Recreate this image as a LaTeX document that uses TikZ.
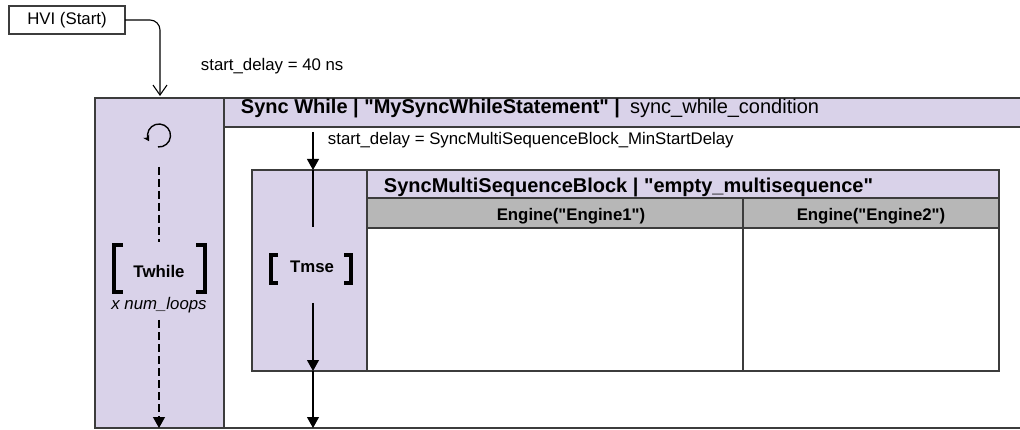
\documentclass[tikz,border=0pt]{standalone}
\usepackage{fontspec}
\setmainfont{Liberation Sans}[Ligatures=TeXOff]
\usetikzlibrary{arrows.meta}
\definecolor{lilac}{RGB}{217,210,233}
\definecolor{enggray}{RGB}{183,183,183}
\definecolor{rim}{RGB}{60,60,60}
\begin{document}
\begin{tikzpicture}[x=1pt,y=1pt,yscale=-1,xscale=1,
	panel/.style={draw=rim, line width=1.4pt, anchor=north west, inner sep=0pt, outer sep=0pt},
	txt/.style={inner sep=0.75pt, font=\fontsize{16.8}{20}\selectfont},
	bigtxt/.style={inner sep=0.75pt, font=\fontsize{20}{24}\selectfont\bfseries},
	flow/.style={line width=1.1pt, -{Triangle[length=11pt,width=12pt]}},
	barline/.style={line width=1.1pt},
	dashline/.style={line width=1.1pt, dash pattern=on 8pt off 4pt},
	brk/.style={line width=3.6pt}]
	\useasboundingbox (0,0) rectangle (1020,430);
	\fill[white] (0,0) rectangle (1020,430);
	\begin{scope}
		\clip (0,0) rectangle (1020,430);
		
		%Shape: Rectangle (HVI start)
		\node[panel, minimum width=116, minimum height=28, txt] (hvi) at (9,6) {HVI (Start)};
		
		%Shape: Rectangle (while block, runs past the right edge)
		\node[panel, minimum width=940, minimum height=330] (whilebox) at (95,98) {};
		\node[panel, fill=lilac, minimum width=129, minimum height=330] (whilecol) at (95,98) {};
		\node[panel, fill=lilac, minimum width=811, minimum height=29] (whilehdr) at (224,98) {};
		
		%Shape: Rectangle (multi sequence block)
		\node[panel, fill=lilac, minimum width=115, minimum height=201] (msecol) at (252,170) {};
		\node[panel, fill=lilac, minimum width=632, minimum height=28] (msehdr) at (367,170) {};
		\node[panel, fill=enggray, minimum width=376, minimum height=30] (eng1) at (367,198) {};
		\node[panel, fill=enggray, minimum width=256, minimum height=30] (eng2) at (743,198) {};
		\node[panel, minimum width=376, minimum height=143] (lane1) at (367,228) {};
		\node[panel, minimum width=256, minimum height=143] (lane2) at (743,228) {};
		
		% Text Node
		\node[txt, anchor=base west] (hvidelay) at (200,71) {start\_delay = 40 ns};
		% Text Node
		\node[bigtxt, anchor=base west] (whiletitle) at (240,113.5) {Sync While | "MySyncWhileStatement" |\hspace{10pt}\mdseries sync\_while\_condition};
		% Text Node
		\node[txt, anchor=base west] (msedelay) at (327,145) {start\_delay = SyncMultiSequenceBlock\_MinStartDelay};
		% Text Node
		\node[bigtxt, anchor=base west] (msetitle) at (383,193) {SyncMultiSequenceBlock | "empty\_multisequence"};
		% Text Node
		\node[txt, font=\fontsize{16.8}{20}\selectfont\bfseries, anchor=base] (eng1txt) at (571,221) {Engine("Engine1")};
		% Text Node
		\node[txt, font=\fontsize{16.8}{20}\selectfont\bfseries, anchor=base] (eng2txt) at (eng2.center |- 0,221) {Engine("Engine2")};
		% Text Node
		\node[txt, font=\fontsize{16.8}{20}\selectfont\bfseries, anchor=base] (twhile) at (159,278) {Twhile};
		% Text Node
		\node[txt, font=\fontsize{16.8}{20}\selectfont\itshape, anchor=base] (loops) at (159,310) {x num\_loops};
		% Text Node
		\node[txt, font=\fontsize{16.8}{20}\selectfont\bfseries, anchor=base] (tmse) at (312,273) {Tmse};
		
		%Straight Lines (start arrow)
		\coordinate (entry) at (160,96);
		\draw[line width=1.1pt, rounded corners=10pt, -{Straight Barb[length=10pt,width=14pt]}] (hvi.east) -| (entry);
		
		%Shape: loop icon
		\coordinate (loopc) at (159,135.5);
		\draw[line width=1.4pt, -{Stealth[length=6pt,width=7pt]}] ([shift={(95:11.5)}]loopc) arc (95:-210:11.5);
		
		%Straight Lines (loop dashes)
		\coordinate (dw1) at (159,167);
		\coordinate (dw2) at (159,242);
		\coordinate (dw3) at (159,320);
		\draw[dashline] (dw1) -- (dw2);
		\draw[dashline, -{Triangle[length=11pt,width=12pt]}] (dw3) -- (dw3 |- whilebox.south);
		
		%Straight Lines (sequence flow)
		\coordinate (sd) at (313,132);
		\coordinate (tm1) at (313,227);
		\coordinate (tm2) at (313,303);
		\draw[flow] (sd) -- (sd |- msecol.north);
		\draw[barline] (sd |- msecol.north) -- (tm1);
		\draw[flow] (tm2) -- (tm2 |- msecol.south);
		\draw[flow] (tm2 |- msecol.south) -- (tm2 |- whilebox.south);
		
		%Shape: brackets
		\draw[brk] (123,245) -- (114,245) -- (114,292) -- (123,292);
		\draw[brk] (196,245) -- (205,245) -- (205,292) -- (196,292);
		\draw[brk] (278,255) -- (271,255) -- (271,283) -- (278,283);
		\draw[brk] (344,255) -- (351,255) -- (351,283) -- (344,283);
	\end{scope}
\end{tikzpicture}
\end{document}
